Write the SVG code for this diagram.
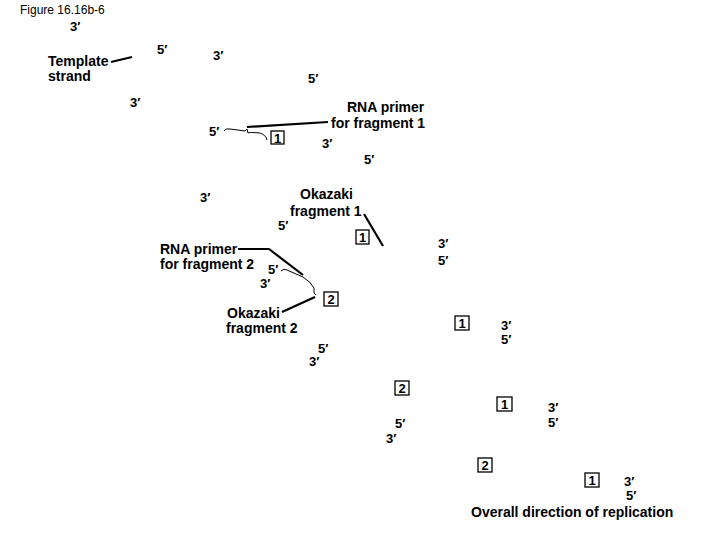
<svg xmlns="http://www.w3.org/2000/svg" width="720" height="540" viewBox="0 0 720 540">
<style>
text{font-family:"Liberation Sans",Arial,sans-serif;fill:#000}
.t{font-size:14px;font-weight:bold}
.p{font-size:13px;font-weight:bold}
.fig{font-size:12px}
.box rect{fill:#fff;stroke:#000;stroke-width:1.3}
.box text{font-size:13px;font-weight:bold;text-anchor:middle}
.lead{stroke:#000;stroke-width:2.2;fill:none}
.thin{stroke:#000;stroke-width:1;fill:none}
</style>
<rect width="720" height="540" fill="#fff"/>
<text class="fig" x="20" y="14">Figure 16.16b-6</text>

<g id="ends">
<text class="p" x="70" y="31">3′</text>
<text class="p" x="157" y="54">5′</text>
<text class="p" x="213" y="60">3′</text>
<text class="p" x="308" y="83">5′</text>
<text class="p" x="130" y="107">3′</text>
<text class="p" x="209" y="136">5′</text>
<text class="p" x="322" y="148">3′</text>
<text class="p" x="364" y="164">5′</text>
<text class="p" x="200" y="202">3′</text>
<text class="p" x="278" y="230">5′</text>
<text class="p" x="438" y="248">3′</text>
<text class="p" x="438" y="265">5′</text>
<text class="p" x="268" y="274">5′</text>
<text class="p" x="260" y="288">3′</text>
<text class="p" x="501" y="330">3′</text>
<text class="p" x="501" y="344">5′</text>
<text class="p" x="318" y="353">5′</text>
<text class="p" x="309" y="366">3′</text>
<text class="p" x="548" y="412">3′</text>
<text class="p" x="548" y="427">5′</text>
<text class="p" x="395" y="428">5′</text>
<text class="p" x="386" y="443">3′</text>
<text class="p" x="624" y="486">3′</text>
<text class="p" x="626" y="500">5′</text>
</g>

<g id="template-label">
<text class="t" x="48" y="66">Template</text>
<text class="t" x="48" y="81">strand</text>
</g>
<g id="primer1-label">
<text class="t" x="347" y="112">RNA primer</text>
<text class="t" x="331" y="128">for fragment 1</text>
</g>
<g id="okazaki1-label">
<text class="t" x="300" y="199">Okazaki</text>
<text class="t" x="290" y="216">fragment 1</text>
</g>
<g id="primer2-label">
<text class="t" x="160" y="254">RNA primer</text>
<text class="t" x="160" y="269">for fragment 2</text>
</g>
<g id="okazaki2-label">
<text class="t" x="227" y="318">Okazaki</text>
<text class="t" x="226" y="333">fragment 2</text>
</g>
<g id="direction-label">
<text class="t" x="471" y="517">Overall direction of replication</text>
</g>

<g id="box-a1" class="box"><rect x="271" y="131" width="13" height="13"/><text x="277.5" y="142.5">1</text></g>
<g id="box-b1" class="box"><rect x="356" y="230" width="13" height="14"/><text x="362.5" y="242">1</text></g>
<g id="box-b2" class="box"><rect x="324" y="292" width="14" height="14"/><text x="331" y="304">2</text></g>
<g id="box-c1" class="box"><rect x="455" y="316" width="14" height="14"/><text x="462" y="328">1</text></g>
<g id="box-d2" class="box"><rect x="395" y="381" width="14" height="14"/><text x="402" y="393">2</text></g>
<g id="box-d1" class="box"><rect x="497" y="397" width="15" height="14"/><text x="504.5" y="409">1</text></g>
<g id="box-e2" class="box"><rect x="478" y="458" width="14" height="14"/><text x="485" y="470">2</text></g>
<g id="box-e1" class="box"><rect x="585" y="473" width="14" height="14"/><text x="592" y="485">1</text></g>

<g id="connectors">
<line class="lead" x1="111" y1="62" x2="132" y2="57"/>
<line class="lead" x1="247" y1="127" x2="328" y2="122"/>
<path class="thin" d="M224,131 Q226,128 230,129 L245,131 L247,129 L248,133 Q249,132 260,133 Q266,135 267,140"/>
<line class="lead" x1="364" y1="214" x2="383" y2="246"/>
<path class="lead" d="M238,249 L269,249 L303,275"/>
<path class="thin" d="M281,271 Q284,268 287,270 L303,277 Q311,282 314,288 L314,293 L316,295"/>
<line class="lead" x1="282" y1="312" x2="315" y2="297"/>
</g>
</svg>
